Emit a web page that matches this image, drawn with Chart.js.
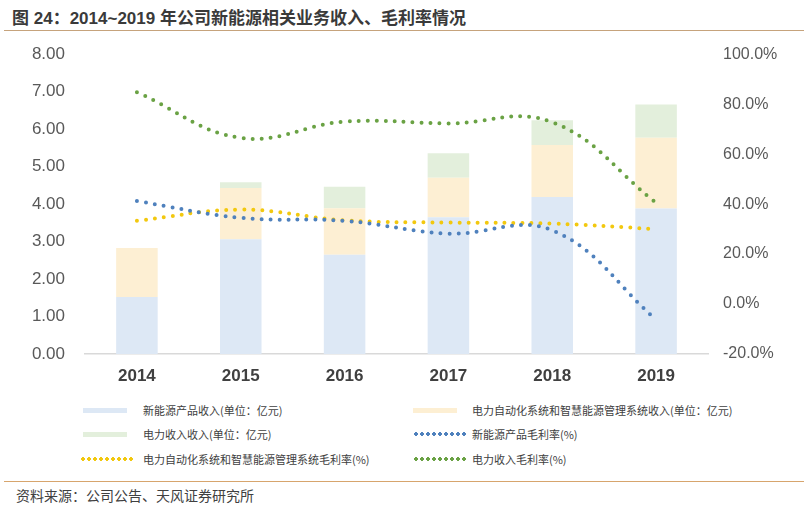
<!DOCTYPE html>
<html><head><meta charset="utf-8">
<script src="https://cdn.jsdelivr.net/npm/chart.js@4/dist/chart.umd.min.js"></script>
<style>
html,body{margin:0;padding:0;background:#fff;}
body{width:809px;height:509px;position:relative;overflow:hidden;font-family:"Liberation Sans","Noto Sans CJK SC",sans-serif;color:#404040;}
#title{position:absolute;left:12px;top:4px;font-size:17px;font-weight:bold;color:#3a3a3a;font-family:"Liberation Sans","Noto Sans CJK SC",sans-serif;white-space:nowrap;}
#tline{position:absolute;left:4px;top:30px;width:800px;height:1px;background:#c6a37c;}
#wrap{position:absolute;left:0;top:24px;width:809px;height:370px;}
#legend{position:absolute;left:0;top:398px;width:809px;height:75px;font-size:11px;color:#404040;font-family:"Noto Sans CJK SC",sans-serif;}
.li{position:absolute;white-space:nowrap;height:16px;line-height:16px;}
.sw{position:absolute;}
#fline{position:absolute;left:4px;top:481px;width:800px;height:1px;background:#d7a56d;}
#foot{position:absolute;left:16px;top:485px;font-size:14px;color:#404040;font-family:"Noto Sans CJK SC",sans-serif;white-space:nowrap;}
</style></head>
<body>
<div id="title">图 24：2014~2019 年公司新能源相关业务收入、毛利率情况</div>
<div id="tline"></div>
<div id="wrap"><canvas id="c"></canvas></div>
<div id="legend"></div>
<div id="fline"></div>
<div id="foot">资料来源：公司公告、天风证券研究所</div>
<script>
const years = ['2014','2015','2016','2017','2018','2019'];
const newEnergyRevenue = [1.52, 3.06, 2.65, 3.65, 4.19, 3.88];
const automationRevenue = [1.31, 1.37, 1.24, 1.05, 1.39, 1.89];
const powerRevenue = [0, 0.15, 0.57, 0.66, 0.66, 0.89];
const newEnergyMargin = [41.2, 34.5, 33.3, 28.2, 29.5, -6.2];
const automationMargin = [33.3, 37.8, 33.5, 32.6, 32.2, 30.0];
const powerMargin = [84.8, 66.5, 73.0, 72.3, 72.8, 40.5];
const leftTicks = [0,1,2,3,4,5,6,7,8];
const rightTicks = [-20,0,20,40,60,80,100];

const names = ['新能源产品收入(单位：亿元)','电力自动化系统和智慧能源管理系统收入(单位：亿元)','电力收入收入(单位：亿元)','新能源产品毛利率(%)','电力自动化系统和智慧能源管理系统毛利率(%)','电力收入毛利率(%)'];
const barColors = ['#dde8f5','#fdefd3','#e3efdc'];
const lineColors = ['#4f81bd','#f2c80f','#6aa244'];

function lineDs(label, data, color){
  return {type:'line', label, data, yAxisID:'y1', borderColor:color, backgroundColor:color,
    borderWidth:4, borderDash:[0,9], borderCapStyle:'round', pointRadius:0, tension:0.4, fill:false, order:0};
}
function barDs(label, data, color){
  return {type:'bar', label, data, backgroundColor:color, borderWidth:0, yAxisID:'y', stack:'s', order:1,
    barPercentage:0.4, categoryPercentage:1};
}
new Chart(document.getElementById('c'), {
  data:{labels:years, datasets:[
    barDs(names[0], newEnergyRevenue, barColors[0]),
    barDs(names[1], automationRevenue, barColors[1]),
    barDs(names[2], powerRevenue, barColors[2]),
    lineDs(names[3], newEnergyMargin, lineColors[0]),
    lineDs(names[4], automationMargin, lineColors[1]),
    lineDs(names[5], powerMargin, lineColors[2])
  ]},
  options:{
    responsive:true, maintainAspectRatio:false, animation:false,
    layout:{padding:{top:12,bottom:0,left:0,right:0}},
    plugins:{legend:{display:false}, tooltip:{enabled:false}},
    scales:{
      x:{stacked:true, grid:{display:false, drawTicks:false}, border:{display:true,color:'#d9d9d9',width:1.5},
        ticks:{padding:12, color:'#404040', font:{family:'"Liberation Sans", Arial, sans-serif', size:17, weight:'bold'}},
        afterFit:s=>{s.height=40;}},
      y:{stacked:true, position:'left', min:0, max:8, grid:{display:false, drawTicks:false}, border:{display:false},
        afterBuildTicks:s=>{s.ticks = leftTicks.map(v=>({value:v}));},
        ticks:{padding:20, color:'#595959', font:{family:'"Liberation Sans", Arial, sans-serif', size:17}, callback:v=>v.toFixed(2)},
        afterFit:s=>{s.width=85;}},
      y1:{position:'right', min:-20, max:100, grid:{display:false, drawTicks:false}, border:{display:false},
        afterBuildTicks:s=>{s.ticks = rightTicks.map(v=>({value:v}));},
        ticks:{padding:15, color:'#595959', font:{family:'"Liberation Sans", Arial, sans-serif', size:16}, callback:v=>v.toFixed(1)+'%'},
        afterFit:s=>{s.width=101;}}
    }
  }
});

// HTML legend
const leg = document.getElementById('legend');
const items = [
  {i:0, kind:'bar', x:83, tx:143, y:4},
  {i:1, kind:'bar', x:413, tx:472, y:4},
  {i:2, kind:'bar', x:83, tx:143, y:28},
  {i:3, kind:'line', x:413, tx:472, y:28},
  {i:4, kind:'line', x:80, tx:143, y:53},
  {i:5, kind:'line', x:413, tx:472, y:53}
];
items.forEach(it=>{
  const sw = document.createElement('div');
  sw.className='sw';
  if(it.kind==='bar'){
    sw.style.cssText=`left:${it.x}px;top:${it.y+6}px;width:44px;height:5px;background:${barColors[it.i]};`;
  } else {
    const c = lineColors[it.i-3];
    sw.style.cssText=`left:${it.x}px;top:${it.y+6}px;width:54px;height:4px;background-image:radial-gradient(circle, ${c} 1.6px, transparent 2px);background-size:6px 4px;`;
  }
  leg.appendChild(sw);
  const t = document.createElement('div');
  t.className='li';
  t.style.left=it.tx+'px'; t.style.top=it.y+'px';
  t.textContent = names[it.i];
  leg.appendChild(t);
});
</script>
</body></html>
